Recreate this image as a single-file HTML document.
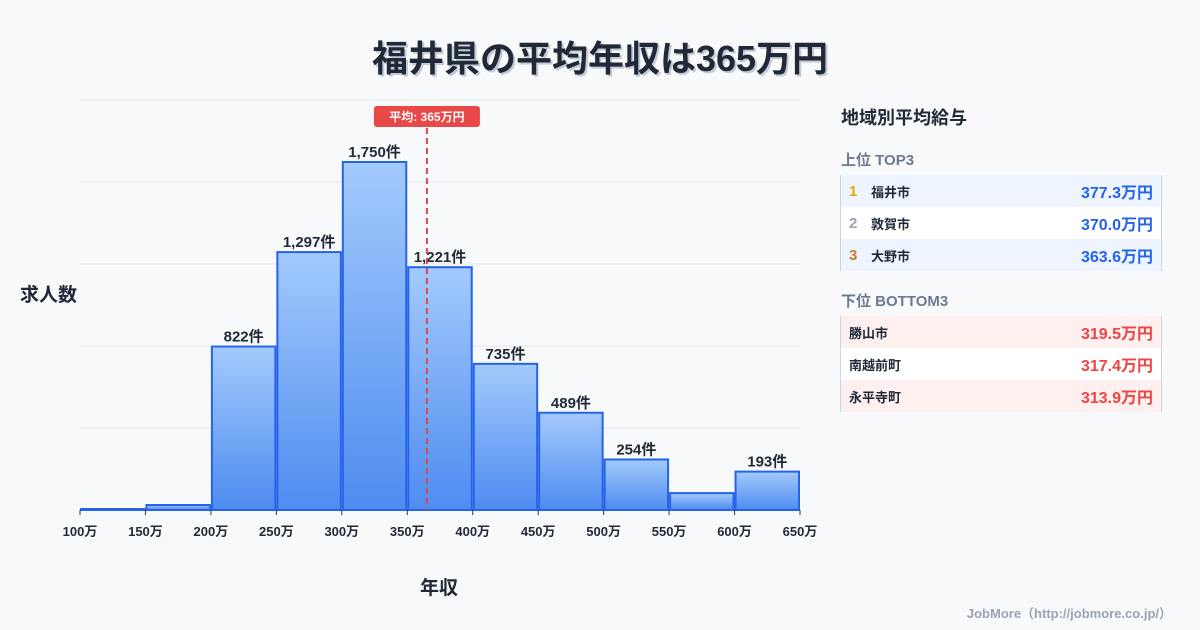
<!DOCTYPE html>
<html><head><meta charset="utf-8">
<style>
body{margin:0;background:#f8f9fb;font-family:"Liberation Sans","Noto Sans CJK JP",sans-serif;}
#wrap{position:relative;width:1200px;height:630px;overflow:hidden;}
.t{position:absolute;}
</style></head>
<body>
<div id="wrap">
<div class="t" style="left:0;width:1200px;top:30px;text-align:center;font-size:36px;font-weight:bold;color:#1f2937;text-shadow:2px 2px 0 #c5cbd6;">福井県の平均年収は365万円</div>
<svg id="chart" width="1200" height="630" style="position:absolute;left:0;top:0">
<defs><linearGradient id="g" x1="0" y1="0" x2="0" y2="1"><stop offset="0" stop-color="#a3cafc"/><stop offset="1" stop-color="#4e8cf0"/></linearGradient></defs>
</svg>
<div class="t" style="left:20px;top:280px;font-size:19px;font-weight:bold;color:#1f2937;">求人数</div>
<div class="t" style="left:420px;top:573px;font-size:19px;font-weight:bold;color:#1f2937;">年収</div>
<div class="t" style="left:841px;top:104px;font-size:18px;font-weight:bold;color:#1f2937;">地域別平均給与</div>
<div class="t" style="left:841px;top:149px;font-size:15px;font-weight:bold;color:#6b7a90;">上位 TOP3</div>
<div class="t" style="left:841px;top:290px;font-size:15px;font-weight:bold;color:#6b7a90;">下位 BOTTOM3</div>
<div id="top" class="t" style="left:840px;top:175px;width:320px;border-left:1px solid #cbd5e1;border-right:1px solid #cbd5e1;"></div>
<div id="bot" class="t" style="left:840px;top:316px;width:320px;border-left:1px solid #cbd5e1;border-right:1px solid #cbd5e1;"></div>
<div class="t" style="right:28px;top:603px;font-size:13px;font-weight:bold;color:#9aa3b0;">JobMore（http://jobmore.co.jp/）</div>
</div>
<script>
const binStarts=[100,150,200,250,300,350,400,450,500,550,600];
const counts=[5,25,822,1297,1750,1221,735,489,254,85,193];
const labeled=[false,false,true,true,true,true,true,true,true,false,true];
const xTicks=[100,150,200,250,300,350,400,450,500,550,600,650];
const avg=365;
const topNames=["福井市","敦賀市","大野市"],topVals=[377.3,370.0,363.6];
const botNames=["勝山市","南越前町","永平寺町"],botVals=[319.5,317.4,313.9];

const NS="http://www.w3.org/2000/svg";
const svg=document.getElementById('chart');
const X=v=>80+(v-100)*(720/550);
const Y=v=>510-v*(348/1750);
function mk(t,a){const e=document.createElementNS(NS,t);for(const k in a)e.setAttribute(k,a[k]);svg.appendChild(e);return e;}
for(let i=0;i<6;i++){const g=mk('line',{x1:80,x2:800,y1:510-i*82,y2:510-i*82,stroke:'#e3e7ed','stroke-width':1});

}
binStarts.forEach((s,i)=>{
  const x0=X(s)+1,x1=X(s+50)-1,y=Y(counts[i]);
  const r=mk('rect',{x:x0,y:y,width:x1-x0,height:510-y,fill:'url(#g)',stroke:'#2563eb','stroke-width':2});
  
  
  if(labeled[i]){const t=mk('text',{x:(x0+x1)/2,y:y-5,'text-anchor':'middle','font-size':15,'font-weight':'bold',fill:'#1f2937'});
  t.textContent=counts[i].toLocaleString('en-US')+'件';
  
  }
});
mk('line',{x1:80,x2:800,y1:510,y2:510,stroke:'#2563eb','stroke-width':2});
xTicks.forEach(v=>{
  mk('line',{x1:X(v),x2:X(v),y1:510,y2:515,stroke:'#333','stroke-width':1});
  const t=mk('text',{x:X(v),y:536,'text-anchor':'middle','font-size':13,'font-weight':'bold',fill:'#1f2937'});
  t.textContent=v+'万';
  
  
});
const ax=X(avg);
const al=mk('line',{x1:ax,x2:ax,y1:128,y2:510,stroke:'#e04848','stroke-width':2,'stroke-dasharray':'6,4'});


const ar=mk('rect',{x:ax-53,y:106,width:106,height:21,rx:3,fill:'#e94848'});


const at=mk('text',{x:ax,y:121,'text-anchor':'middle','font-size':12,'font-weight':'bold',fill:'#fff'});
at.textContent='平均: '+avg+'万円';

function rows(el,names,vals,bg,col,ranks){
  names.forEach((n,i)=>{
    const d=document.createElement('div');
    
    
    d.style.cssText='height:32px;display:flex;align-items:center;padding:0 8px;font-weight:bold;background:'+(i%2==0?bg:'#fff');
    let h='';
    if(ranks)h+='<span style="width:22px;font-size:15px;color:'+ranks[i]+'">'+(i+1)+'</span>';
    h+='<span style="font-size:13px;color:#1f2937;flex:1">'+n+'</span><span style="font-size:16px;color:'+col+'">'+vals[i].toFixed(1)+'万円</span>';
    d.innerHTML=h;el.appendChild(d);
  });
}
rows(document.getElementById('top'),topNames,topVals,'#eef5ff','#2563eb',['#e0a800','#9ca3af','#cd7a2a']);
rows(document.getElementById('bot'),botNames,botVals,'#fff0f0','#ef4444',null);
</script>
</body></html>
